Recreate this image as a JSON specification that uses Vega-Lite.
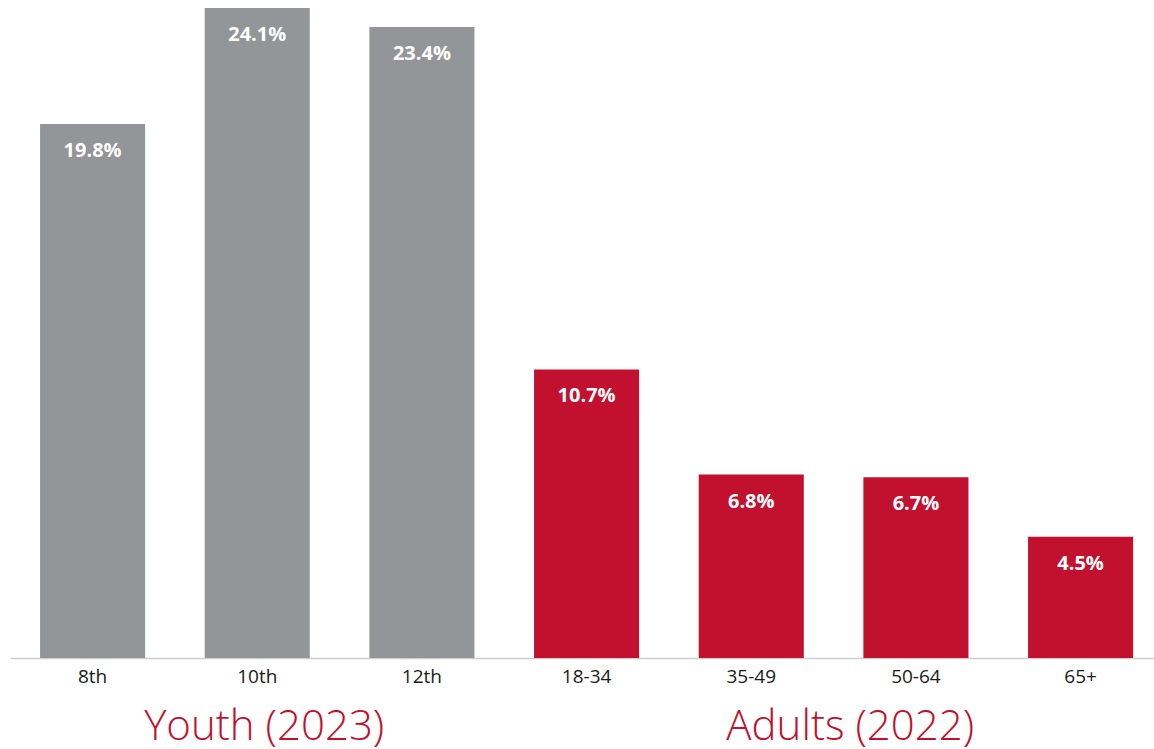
{
  "$schema": "https://vega.github.io/schema/vega-lite/v6.json",
  "width": 1144,
  "height": 650,
  "padding": {"left": 10, "top": 8, "right": 0, "bottom": 0},
  "background": "white",
  "config": {"view": {"stroke": null}, "font": "Open Sans"},
  "datasets": {
    "bars": [
      {"category": "8th", "value": 0.198, "group": "Youth"},
      {"category": "10th", "value": 0.241, "group": "Youth"},
      {"category": "12th", "value": 0.234, "group": "Youth"},
      {"category": "18-34", "value": 0.107, "group": "Adults"},
      {"category": "35-49", "value": 0.068, "group": "Adults"},
      {"category": "50-64", "value": 0.067, "group": "Adults"},
      {"category": "65+", "value": 0.045, "group": "Adults"}
    ],
    "groups": [
      {"label": "Youth (2023)", "category": "10th"},
      {"label": "Adults (2022)", "category": "35-49"}
    ]
  },
  "layer": [
    {
      "data": {"name": "bars"},
      "mark": {"type": "bar"},
      "encoding": {
        "x": {
          "field": "category", "type": "nominal", "sort": null,
          "scale": {"paddingInner": 0.362, "paddingOuter": 0.1546, "align": 0.59},
          "axis": {"title": null, "labelAngle": 0, "ticks": false, "domainColor": "#cfcfcf", "domainWidth": 1.5,
                   "labelFontSize": 19, "labelColor": "#1a1a1a", "labelPadding": 9, "labelFont": "Open Sans"}
        },
        "y": {"field": "value", "type": "quantitative", "scale": {"domain": [0, 0.241], "nice": false}, "axis": null},
        "color": {"field": "group", "type": "nominal", "scale": {"domain": ["Youth", "Adults"], "range": ["#939598", "#c1112f"]}, "legend": null}
      }
    },
    {
      "data": {"name": "bars"},
      "mark": {"type": "text", "color": "white", "fontWeight": "bold", "fontSize": 20, "baseline": "middle", "dy": 27, "font": "Open Sans"},
      "encoding": {
        "x": {"field": "category", "type": "nominal", "sort": null},
        "y": {"field": "value", "type": "quantitative"},
        "text": {"field": "value", "type": "quantitative", "format": ".1%"}
      }
    },
    {
      "data": {"name": "groups"},
      "transform": [{"filter": "datum.category === '10th'"}],
      "mark": {"type": "text", "color": "#c1112f", "fontSize": 42, "fontWeight": 300, "baseline": "middle", "font": "Open Sans", "dx": 7},
      "encoding": {
        "x": {"field": "category", "type": "nominal", "sort": null},
        "y": {"datum": -0.0255},
        "text": {"field": "label"}
      }
    },
    {
      "data": {"name": "groups"},
      "transform": [{"filter": "datum.category === '35-49'"}],
      "mark": {"type": "text", "color": "#c1112f", "fontSize": 42, "fontWeight": 300, "baseline": "middle", "font": "Open Sans", "dx": 99},
      "encoding": {
        "x": {"field": "category", "type": "nominal", "sort": null},
        "y": {"datum": -0.0255},
        "text": {"field": "label"}
      }
    }
  ]
}
